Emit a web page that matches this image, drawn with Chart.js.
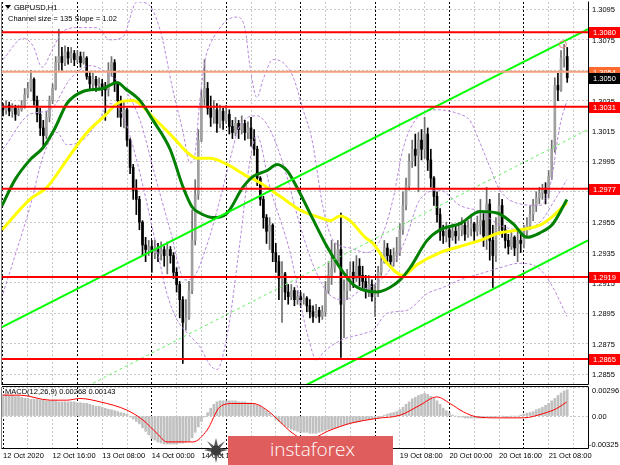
<!DOCTYPE html>
<html>
<head>
<meta charset="utf-8">
<title>GBPUSD,H1</title>
<script src="https://cdn.jsdelivr.net/npm/chart.js@4.4.1/dist/chart.umd.min.js"></script>
<style>
  html, body { margin: 0; padding: 0; background: #fff; }
  #wrap { position: relative; width: 620px; height: 465px; overflow: hidden; background: #fff; }
  #main { position: absolute; left: 0; top: 0; }
  #macd { position: absolute; left: 0; top: 383px; }
  #logoIcon { position: absolute; left: 203px; top: 436px; }
  #logo { position: absolute; left: 228px; top: 436px; width: 165px; height: 29px; background: #e05d5d;
          color: #fff; font: 300 19px "Open Sans", sans-serif; line-height: 27px; padding-left: 42px; box-sizing: border-box; }
</style>
</head>
<body>
<div id="wrap">
  <canvas id="main" width="620" height="385"></canvas>
  <canvas id="macd" width="620" height="82"></canvas>
  <svg id="logoIcon" width="26" height="29" viewBox="0 0 26 29">
    <polygon points="13,2 15,10 22,5 17,12 25,14 17,16 22,23 15,18 13,27 11,18 4,23 9,16 1,14 9,12 4,5 11,10" fill="#5a5a5a"/>
    <circle cx="13" cy="14.5" r="5" fill="#3c3c3c"/>
  </svg>
  <div id="logo">instaforex</div>
</div>
<script>
// GBPUSD H1, 12 Oct 2020 00:00 .. 21 Oct 2020 ~14:00, one entry per hourly bar
const firstOpen = 1.3031;
const closes = [
  1.3029, 1.3032, 1.3028, 1.3030, 1.3026, 1.3029, 1.3032, 1.3039, 1.3043, 1.3049,
  1.3035, 1.3026, 1.3017, 1.3012, 1.3024, 1.3035, 1.3043, 1.3060, 1.3064, 1.3060,
  1.3067, 1.3063, 1.3066, 1.3062, 1.3064, 1.3060, 1.3063, 1.3051, 1.3046, 1.3049,
  1.3045, 1.3046, 1.3043, 1.3042, 1.3055, 1.3060, 1.3046, 1.3035, 1.3024, 1.3029,
  1.3009, 1.2991, 1.2976, 1.2970, 1.2955, 1.2940, 1.2937, 1.2939, 1.2935, 1.2938,
  1.2934, 1.2937, 1.2933, 1.2937, 1.2933, 1.2922, 1.2914, 1.2904, 1.2889, 1.2892,
  1.2910, 1.2943, 1.2973, 1.3009, 1.3037, 1.3043, 1.3030, 1.3024, 1.3029, 1.3020,
  1.3028, 1.3022, 1.3026, 1.3018, 1.3014, 1.3020, 1.3016, 1.3020, 1.3014, 1.3017,
  1.3010, 1.3003, 1.2984, 1.2970, 1.2958, 1.2949, 1.2953, 1.2935, 1.2929, 1.2918,
  1.2921, 1.2909, 1.2906, 1.2910, 1.2904, 1.2906, 1.2904, 1.2905, 1.2900, 1.2896,
  1.2893, 1.2897, 1.2893, 1.2896, 1.2910, 1.2920, 1.2925, 1.2930, 1.2937, 1.2901,
  1.2910, 1.2917, 1.2922, 1.2918, 1.2926, 1.2920, 1.2916, 1.2910, 1.2914, 1.2906,
  1.2909, 1.2922, 1.2929, 1.2938, 1.2933, 1.2929, 1.2933, 1.2935, 1.2950, 1.2966,
  1.2979, 1.2995, 1.3003, 1.2999, 1.3009, 1.3003, 1.3013, 1.2996, 1.2984, 1.2972,
  1.2960, 1.2949, 1.2946, 1.2950, 1.2945, 1.2949, 1.2946, 1.2950, 1.2953, 1.2947,
  1.2951, 1.2954, 1.2949, 1.2953, 1.2956, 1.2946, 1.2967, 1.2943, 1.2933, 1.2953,
  1.2966, 1.2950, 1.2943, 1.2939, 1.2945, 1.2938, 1.2943, 1.2941, 1.2949, 1.2953,
  1.2960, 1.2966, 1.2971, 1.2974, 1.2976, 1.2974, 1.2985, 1.3003, 1.3045, 1.3042,
  1.3063, 1.3064, 1.3050
];
const highs = [
  1.3033, 1.3035, 1.3034, 1.3033, 1.3032, 1.3032, 1.3035, 1.3043, 1.3047, 1.3055,
  1.3050, 1.3038, 1.3030, 1.3022, 1.3028, 1.3038, 1.3046, 1.3064, 1.3082, 1.3070,
  1.3071, 1.3070, 1.3070, 1.3068, 1.3068, 1.3067, 1.3067, 1.3064, 1.3054, 1.3053,
  1.3051, 1.3050, 1.3049, 1.3047, 1.3060, 1.3064, 1.3062, 1.3047, 1.3038, 1.3035,
  1.3030, 1.3010, 1.2993, 1.2983, 1.2972, 1.2956, 1.2945, 1.2943, 1.2943, 1.2943,
  1.2941, 1.2942, 1.2939, 1.2942, 1.2939, 1.2935, 1.2925, 1.2916, 1.2906, 1.2904,
  1.2916, 1.2963, 1.2983, 1.3016, 1.3042, 1.3062, 1.3047, 1.3038, 1.3035, 1.3033,
  1.3032, 1.3030, 1.3032, 1.3029, 1.3022, 1.3024, 1.3022, 1.3025, 1.3022, 1.3021,
  1.3024, 1.3016, 1.3005, 1.2985, 1.2972, 1.2960, 1.2958, 1.2954, 1.2941, 1.2933,
  1.2929, 1.2922, 1.2914, 1.2914, 1.2912, 1.2910, 1.2909, 1.2908, 1.2906, 1.2904,
  1.2900, 1.2901, 1.2899, 1.2900, 1.2916, 1.2929, 1.2943, 1.2941, 1.2943, 1.2961,
  1.2917, 1.2924, 1.2929, 1.2929, 1.2933, 1.2931, 1.2926, 1.2920, 1.2920, 1.2917,
  1.2914, 1.2926, 1.2935, 1.2943, 1.2941, 1.2937, 1.2938, 1.2945, 1.2954, 1.2975,
  1.2984, 1.3000, 1.3009, 1.3013, 1.3014, 1.3016, 1.3024, 1.3017, 1.3003, 1.2985,
  1.2975, 1.2964, 1.2953, 1.2955, 1.2953, 1.2954, 1.2953, 1.2955, 1.2958, 1.2955,
  1.2956, 1.2960, 1.2955, 1.2959, 1.2970, 1.2962, 1.2978, 1.2970, 1.2953, 1.2958,
  1.2974, 1.2970, 1.2953, 1.2947, 1.2949, 1.2946, 1.2949, 1.2947, 1.2953, 1.2958,
  1.2966, 1.2970, 1.2975, 1.2978, 1.2980, 1.2981, 1.2989, 1.3009, 1.3050, 1.3053,
  1.3068, 1.3072, 1.3070
];
const lows = [
  1.3025, 1.3026, 1.3025, 1.3024, 1.3022, 1.3025, 1.3028, 1.3030, 1.3037, 1.3041,
  1.3032, 1.3021, 1.3012, 1.3005, 1.3010, 1.3021, 1.3033, 1.3042, 1.3055, 1.3055,
  1.3058, 1.3059, 1.3060, 1.3058, 1.3060, 1.3057, 1.3059, 1.3049, 1.3042, 1.3043,
  1.3041, 1.3042, 1.3038, 1.3022, 1.3038, 1.3051, 1.3041, 1.3024, 1.3018, 1.3017,
  1.3005, 1.2987, 1.2970, 1.2960, 1.2950, 1.2933, 1.2929, 1.2933, 1.2922, 1.2931,
  1.2929, 1.2930, 1.2926, 1.2921, 1.2928, 1.2918, 1.2909, 1.2892, 1.2862, 1.2884,
  1.2891, 1.2908, 1.2940, 1.2970, 1.3008, 1.3032, 1.3026, 1.3018, 1.3020, 1.3014,
  1.3017, 1.3016, 1.3020, 1.3013, 1.3010, 1.3012, 1.3010, 1.3013, 1.3009, 1.3010,
  1.3005, 1.2999, 1.2979, 1.2966, 1.2951, 1.2941, 1.2937, 1.2929, 1.2922, 1.2904,
  1.2889, 1.2904, 1.2901, 1.2904, 1.2900, 1.2901, 1.2900, 1.2901, 1.2896, 1.2892,
  1.2889, 1.2892, 1.2889, 1.2891, 1.2893, 1.2908, 1.2914, 1.2922, 1.2926, 1.2866,
  1.2879, 1.2904, 1.2910, 1.2912, 1.2916, 1.2913, 1.2910, 1.2905, 1.2906, 1.2903,
  1.2893, 1.2906, 1.2920, 1.2928, 1.2929, 1.2925, 1.2926, 1.2929, 1.2933, 1.2947,
  1.2963, 1.2976, 1.2991, 1.2992, 1.2975, 1.2996, 1.2997, 1.2989, 1.2978, 1.2966,
  1.2955, 1.2943, 1.2941, 1.2942, 1.2939, 1.2943, 1.2941, 1.2943, 1.2946, 1.2943,
  1.2945, 1.2946, 1.2943, 1.2946, 1.2947, 1.2939, 1.2937, 1.2930, 1.2912, 1.2929,
  1.2949, 1.2945, 1.2938, 1.2934, 1.2937, 1.2933, 1.2929, 1.2935, 1.2938, 1.2946,
  1.2950, 1.2956, 1.2962, 1.2967, 1.2970, 1.2967, 1.2971, 1.2983, 1.3001, 1.3035,
  1.3041, 1.3057, 1.3047
];

// moving averages and bands, read as [bar, price]
const fastMA = [
  [-0.3, 1.2966], [3.9, 1.2983], [8.7, 1.2996], [12.9, 1.3004], [16.8, 1.3017], [20.6, 1.3033],
  [25.8, 1.3041], [32.3, 1.3043], [36.8, 1.3047], [39.4, 1.3043], [44.2, 1.3035], [48.4, 1.3022],
  [53.9, 1.3003], [58.1, 1.2978], [61.0, 1.2965], [63.5, 1.2961], [67.7, 1.2958], [72.3, 1.2961],
  [77.4, 1.2978], [80.6, 1.2985], [85.2, 1.2989], [88.4, 1.2993], [91.6, 1.2989], [94.8, 1.2978],
  [99.0, 1.2961], [104.5, 1.2939], [108.7, 1.2925], [112.9, 1.2914], [116.8, 1.2910], [120.6, 1.2909],
  [124.8, 1.2912], [128.1, 1.2917], [131.3, 1.2925], [136.8, 1.2943], [141.0, 1.2950], [147.4, 1.2954],
  [153.9, 1.2962], [159.4, 1.2961], [164.5, 1.2954], [169.0, 1.2945], [173.2, 1.2948], [177.4, 1.2954],
  [181.9, 1.2970]
];
const slowMA = [
  [-0.3, 1.2950], [8.7, 1.2970], [14.2, 1.2978], [20.6, 1.2996], [27.1, 1.3014], [32.3, 1.3024],
  [37.7, 1.3034], [41.9, 1.3035], [48.4, 1.3024], [54.8, 1.3011], [59.4, 1.3001], [62.6, 1.2997],
  [66.8, 1.2997], [72.3, 1.2993], [78.1, 1.2986], [82.9, 1.2981], [89.4, 1.2972], [95.8, 1.2963],
  [102.3, 1.2958], [105.5, 1.2956], [108.7, 1.2959], [111.9, 1.2956], [116.8, 1.2945], [119.4, 1.2941],
  [123.9, 1.2928], [129.0, 1.2920], [133.5, 1.2927], [141.0, 1.2935], [147.4, 1.2939], [153.9, 1.2943],
  [160.3, 1.2948], [166.8, 1.2950], [173.2, 1.2953], [177.4, 1.2959], [181.9, 1.2968]
];
const bandUpper = [
  [0, 1.3062], [6.5, 1.3076], [9.7, 1.3071], [12.6, 1.3057], [15.8, 1.3068], [19.0, 1.3080],
  [23.9, 1.3083], [30.3, 1.3083], [34.5, 1.3075], [38.7, 1.3077], [43.2, 1.3100], [46.5, 1.3099],
  [50.6, 1.3082], [54.8, 1.3042], [58.1, 1.3014], [60.3, 1.2994], [61.6, 1.2996], [63.5, 1.3035],
  [65.2, 1.3062], [66.8, 1.3072], [69.0, 1.3080], [72.3, 1.3088], [75.5, 1.3090], [78.1, 1.3082],
  [79.7, 1.3057], [81.9, 1.3037], [83.9, 1.3049], [87.1, 1.3062], [90.3, 1.3060], [93.5, 1.3051],
  [96.8, 1.3029], [99.7, 1.3009], [103.2, 1.2965], [106.5, 1.2943], [111.9, 1.2938], [117.4, 1.2935],
  [121.6, 1.2943], [125.8, 1.2970], [129.0, 1.3003], [132.3, 1.3020], [140.0, 1.3029], [147.4, 1.3026],
  [150.6, 1.3022], [153.9, 1.3007], [157.1, 1.2991], [160.3, 1.2976], [166.8, 1.2967], [173.2, 1.2966],
  [176.5, 1.2979], [179.7, 1.3019], [181.9, 1.3035]
];
const bandMiddle = [
  [0, 1.3003], [8.7, 1.3026], [15.2, 1.3029], [21.6, 1.3049], [28.1, 1.3058], [34.5, 1.3052],
  [39.4, 1.3042], [44.2, 1.3022], [49.0, 1.2986], [53.9, 1.2950], [58.7, 1.2917], [61.9, 1.2920],
  [65.8, 1.2940], [70.0, 1.2970], [73.2, 1.2996], [76.5, 1.3019], [81.9, 1.3025], [86.1, 1.3016],
  [91.0, 1.2989], [95.8, 1.2953], [100.6, 1.2924], [105.5, 1.2907], [110.3, 1.2904], [115.2, 1.2910],
  [120.0, 1.2914], [124.8, 1.2924], [129.7, 1.2943], [134.5, 1.2970], [141.0, 1.2976], [147.4, 1.2966],
  [153.9, 1.2962], [160.3, 1.2953], [166.8, 1.2950], [173.2, 1.2955], [178.1, 1.2970], [181.9, 1.2983]
];
const bandLower = [
  [0, 1.2908], [4.5, 1.2937], [8.7, 1.2965], [12.9, 1.2998], [17.4, 1.3014], [20.6, 1.3006],
  [25.8, 1.3009], [30.3, 1.3020], [34.5, 1.3033], [37.7, 1.3029], [40.0, 1.3018], [44.2, 1.2987],
  [49.7, 1.2937], [52.9, 1.2908], [56.1, 1.2891], [59.4, 1.2882], [63.5, 1.2873], [66.8, 1.2861],
  [69.0, 1.2858], [72.6, 1.2884], [76.5, 1.2943], [79.7, 1.2996], [81.9, 1.3012], [86.1, 1.2978],
  [92.6, 1.2935], [98.1, 1.2882], [101.3, 1.2864], [103.2, 1.2869], [108.7, 1.2877], [116.8, 1.2882],
  [119.4, 1.2884], [123.9, 1.2895], [130.3, 1.2897], [136.8, 1.2908], [141.9, 1.2912], [147.4, 1.2917],
  [153.9, 1.2921], [160.3, 1.2925], [166.8, 1.2928], [173.2, 1.2924], [177.4, 1.2912], [181.9, 1.2893]
];

// regression channel ends [bar, price]
const channelUpper = [[-0.32, 1.2886], [188.7, 1.3082]];
const channelMiddle = [[29, 1.2849], [188.7, 1.3016]];
const channelLower = [[98, 1.2848], [188.7, 1.2943]];

const levels = [1.3080, 1.3031, 1.2977, 1.2919, 1.2865];
const askPrice = 1.3054;
const bidPrice = 1.3050;
const highMark = [180.6, 1.3072];
const priceTicks = [1.2855, 1.2875, 1.2895, 1.2915, 1.2935, 1.2955, 1.2975, 1.2995,
                    1.3015, 1.3035, 1.3055, 1.3075, 1.3095];

// MACD(12,26,9), main line as histogram, signal as [bar, value]
const macdHist = [
  0.00220, 0.00220, 0.00210, 0.00210, 0.00200, 0.00200,
  0.00190, 0.00180, 0.00180, 0.00170, 0.00170, 0.00170, 0.00165, 0.00165,
  0.00155, 0.00155, 0.00155, 0.00155, 0.00145, 0.00145, 0.00145, 0.00145, 0.00145, 0.00145, 0.00135,
  0.00135, 0.00130, 0.00130, 0.00120, 0.00110,
  0.00100, 0.00100, 0.00090, 0.00080, 0.00070,
  0.00065, 0.00055, 0.00045, 0.00035, 0.00030, 0.00020,
  -0.00010, -0.00030, -0.00055, -0.00080,
  -0.00120, -0.00155, -0.00190,
  -0.00230, -0.00245, -0.00265, -0.00275, -0.00285, -0.00285,
  -0.00285, -0.00285, -0.00285, -0.00275, -0.00275, -0.00265, -0.00255,
  -0.00220, -0.00165, -0.00110, -0.00055,
  -0.00010, 0.00035, 0.00080, 0.00120,
  0.00145, 0.00155, 0.00155, 0.00155,
  0.00155, 0.00155, 0.00155, 0.00145, 0.00145, 0.00145, 0.00135, 0.00135, 0.00130,
  0.00110, 0.00100, 0.00080, 0.00055,
  0.00030, 0.00000, -0.00030, -0.00055,
  -0.00080, -0.00100, -0.00120, -0.00135, -0.00145, -0.00155, -0.00165, -0.00165, -0.00165, -0.00175,
  -0.00175, -0.00175, -0.00165, -0.00155, -0.00145, -0.00135,
  -0.00130, -0.00120, -0.00110, -0.00100, -0.00090,
  -0.00080, -0.00070, -0.00065, -0.00065, -0.00055, -0.00045, -0.00035,
  -0.00035, -0.00030, -0.00030, -0.00020, -0.00010,
  0.00010, 0.00020, 0.00030, 0.00035, 0.00045,
  0.00065, 0.00090, 0.00120, 0.00145, 0.00175,
  0.00190, 0.00210, 0.00220, 0.00230, 0.00220,
  0.00200, 0.00180, 0.00155,
  0.00120, 0.00080, 0.00055,
  0.00030, 0.00010, 0.00000,
  -0.00010, -0.00010, -0.00020, -0.00020, -0.00020, -0.00020, -0.00020, -0.00020, -0.00020, -0.00010,
  -0.00010, -0.00010, -0.00010, 0.00000, 0.00000, -0.00010, -0.00010, 0.00000, 0.00000, 0.00000,
  0.00010, 0.00020, 0.00030, 0.00035, 0.00045,
  0.00065, 0.00075, 0.00090, 0.00110, 0.00130,
  0.00155, 0.00180, 0.00210,
  0.00235, 0.00255, 0.00268
];
const macdSignal = [
  [0, 0.00213], [5.5, 0.00213], [15.2, 0.00162], [20.6, 0.00162], [24.8, 0.00179], [31.3, 0.00145],
  [40, 0.00060], [45.2, -0.00042], [49.7, -0.00177], [52.9, -0.00263], [61.3, -0.00263], [65.8, -0.00144],
  [70, 0.00094], [74.2, 0.00128], [80.6, 0.00128], [85.2, 0.00060], [89.4, -0.00059], [93.5, -0.00177],
  [98, -0.00240], [105.5, -0.00144], [111.9, -0.00075], [120.5, -0.00024], [128.1, 0.00009], [134.5, 0.00111],
  [139.9, 0.00195], [144.2, 0.00128], [148.5, 0.00043], [152.8, -0.00008], [159.3, -0.00018], [167.9, -0.00018],
  [174.3, 0.00026], [178.6, 0.00077], [181.8, 0.00143]
];
const macdTicks = [-0.00325, 0, 0.00296];
const macdTickLabels = ['-0.00325', '0.00', '0.00296'];

const timeTickBars = [0, 16, 32, 48, 64, 80, 96, 112, 128, 144, 160, 176];
const timeTickLabels = ['12 Oct 2020', '12 Oct 16:00', '13 Oct 08:00', '14 Oct 00:00', '14 Oct 16:00',
  '15 Oct 08:00', '16 Oct 00:00', '16 Oct 16:00', '19 Oct 08:00', '20 Oct 00:00', '20 Oct 16:00', '21 Oct 08:00'];

const xMin = -0.32, xMax = 188.7;
const FONT = 'Liberation Sans';
const LABEL_FONT = '7.5px "' + FONT + '"';
Chart.defaults.font.family = FONT;
Chart.defaults.font.size = 7.5;
Chart.defaults.color = '#000';

const opens = closes.map((c, i) => i === 0 ? firstOpen : closes[i - 1]);
const isUp = closes.map((c, i) => c >= opens[i]);
const gridBars = [];
for (let b = 0; b <= 184; b += 8) gridBars.push(b);

const pts = arr => arr.map(p => ({x: p[0], y: p[1]}));
const flat = v => [{x: xMin, y: v}, {x: xMax, y: v}];

function timeScale(showLabels) {
  return {
    type: 'linear', min: xMin, max: xMax, offset: false,
    afterBuildTicks: s => { s.ticks = gridBars.map(v => ({value: v})); },
    afterFit: s => { s.height = showLabels ? 17 : 0; },
    grid: {
      offset: false, drawTicks: false, lineWidth: 1,
      color: c => (c.tick && c.tick.value % 24 === 0) ? '#000000' : '#c8c8c8'
    },
    border: { display: false, dash: [2, 2] },
    ticks: {
      display: showLabels, autoSkip: false, maxRotation: 0, minRotation: 0,
      align: 'start', padding: 3,
      callback: v => { const k = timeTickBars.indexOf(v); return k >= 0 ? timeTickLabels[k] : ''; }
    }
  };
}

// right-hand value axis: grid from the scale, labels written by the decor plugin
function valueScale(min, max, ticks) {
  return {
    position: 'right', min, max,
    afterBuildTicks: s => { s.ticks = ticks.map(v => ({value: v})); },
    afterFit: s => { s.width = 32; },
    grid: { drawTicks: false, color: '#c8c8c8' },
    border: { display: false, dash: [2, 2] },
    ticks: { display: false }
  };
}

function lineSet(data, color, width, order, dash) {
  return { type: 'line', data, borderColor: color, borderWidth: width, borderDash: dash || [],
           pointRadius: 0, fill: false, order, cubicInterpolationMode: 'monotone' };
}

function frame(ctx, a) {
  ctx.strokeStyle = '#808080';
  ctx.lineWidth = 1;
  ctx.beginPath();
  ctx.moveTo(a.left - 0.5, a.top);
  ctx.lineTo(a.left - 0.5, a.bottom + 0.5);
  ctx.stroke();
  ctx.strokeStyle = '#000';
  ctx.beginPath();
  ctx.moveTo(a.left - 0.5, a.bottom + 0.5);
  ctx.lineTo(a.right + 0.5, a.bottom + 0.5);
  ctx.lineTo(a.right + 0.5, a.top - 0.5);
  ctx.stroke();
}

const mainDecor = {
  id: 'mainDecor',
  afterDraw(chart) {
    const {ctx, chartArea: a, scales: {y}} = chart;
    ctx.save();
    frame(ctx, a);
    ctx.fillStyle = '#000';
    ctx.beginPath(); ctx.moveTo(5, 5); ctx.lineTo(11, 5); ctx.lineTo(8, 9); ctx.closePath(); ctx.fill();
    ctx.font = LABEL_FONT;
    ctx.textBaseline = 'middle';
    ctx.fillText('GBPUSD,H1', 14, 7.5);
    ctx.fillText('Channel size = 135 Slope = 1.02', 8, 18.5);
    priceTicks.forEach(v => ctx.fillText(v.toFixed(4), a.right + 4, Math.round(y.getPixelForValue(v)) + 0.5));
    const tags = levels.map(v => ({v, bg: '#ff0000'}))
      .concat([{v: askPrice, bg: '#ff6a30'}, {v: bidPrice, bg: '#000000'}]);
    tags.forEach(t => {
      const py = Math.round(y.getPixelForValue(t.v));
      ctx.fillStyle = t.bg;
      ctx.fillRect(a.right + 1, py - 5, 620 - a.right - 1, 11);
      ctx.fillStyle = '#fff';
      ctx.fillText(t.v.toFixed(4), a.right + 5, py + 0.5);
    });
    ctx.restore();
  }
};

new Chart(document.getElementById('main'), {
  type: 'bar',
  data: {
    datasets: [
      { type: 'bar', data: closes.map((c, i) => ({x: i, y: [lows[i], highs[i]]})),
        backgroundColor: isUp.map(u => u ? '#707070' : '#000000'), barThickness: 1, grouped: false, order: 12 },
      { type: 'bar', data: closes.map((c, i) => ({x: i, y: [opens[i], c]})),
        backgroundColor: isUp.map(u => u ? '#a0a0a0' : '#000000'), barThickness: 2, minBarLength: 1,
        grouped: false, order: 11 },
      lineSet(pts(bandUpper), '#b888dc', 1, 10, [3, 2]),
      lineSet(pts(bandMiddle), '#b888dc', 1, 10, [3, 2]),
      lineSet(pts(bandLower), '#b888dc', 1, 10, [3, 2]),
      lineSet(pts(slowMA), '#ffff00', 3, 9),
      lineSet(pts(fastMA), '#008000', 3, 8),
      lineSet(pts(channelUpper), '#00ff00', 2, 7),
      lineSet(pts(channelMiddle), '#66ee66', 1, 7, [3, 3]),
      lineSet(pts(channelLower), '#00ff00', 2, 7),
      lineSet(flat(askPrice), '#f4a080', 2, 6),
      ...levels.map(v => lineSet(flat(v), '#ff0000', 2, 5)),
      { type: 'line', data: [{x: highMark[0], y: highMark[1]}], showLine: false, pointRadius: 3.5,
        pointBorderColor: '#f08080', pointBackgroundColor: 'rgba(0,0,0,0)', pointBorderWidth: 1, order: 4 }
    ]
  },
  options: {
    responsive: false, animation: false, devicePixelRatio: 1, events: [],
    layout: { autoPadding: false, padding: { left: 2, top: 2, right: 0, bottom: 1 } },
    plugins: { legend: { display: false }, tooltip: { enabled: false } },
    scales: {
      x: timeScale(false),
      y: valueScale(1.28485, 1.30999, priceTicks)
    }
  },
  plugins: [mainDecor]
});

const macdDecor = {
  id: 'macdDecor',
  afterDraw(chart) {
    const {ctx, chartArea: a, scales: {y}} = chart;
    ctx.save();
    frame(ctx, a);
    ctx.strokeStyle = '#000';
    ctx.beginPath();
    ctx.moveTo(a.left, a.top - 0.5);
    ctx.lineTo(a.right, a.top - 0.5);
    ctx.stroke();
    ctx.fillStyle = '#000';
    ctx.font = LABEL_FONT;
    ctx.textBaseline = 'middle';
    ctx.fillText('MACD(12,26,9) 0.00268 0.00143', 5, a.top + 5);
    macdTicks.forEach((v, k) => {
      const py = Math.min(Math.max(y.getPixelForValue(v), a.top + 3), a.bottom - 4);
      ctx.fillText(macdTickLabels[k], a.right + (v < 0 ? 1 : 4), Math.round(py) + 0.5);
    });
    ctx.restore();
  }
};

new Chart(document.getElementById('macd'), {
  type: 'bar',
  data: {
    datasets: [
      { type: 'bar', data: macdHist.map((v, i) => ({x: i, y: v})), backgroundColor: '#c0c0c0',
        barThickness: 2, grouped: false, order: 2 },
      lineSet(pts(macdSignal), '#ff0000', 1, 1)
    ]
  },
  options: {
    responsive: false, animation: false, devicePixelRatio: 1, events: [],
    layout: { autoPadding: false, padding: { left: 2, top: 4, right: 0, bottom: 0 } },
    plugins: { legend: { display: false }, tooltip: { enabled: false } },
    scales: {
      x: timeScale(true),
      y: valueScale(-0.00325, 0.00296, macdTicks)
    }
  },
  plugins: [macdDecor]
});
</script>
</body>
</html>
